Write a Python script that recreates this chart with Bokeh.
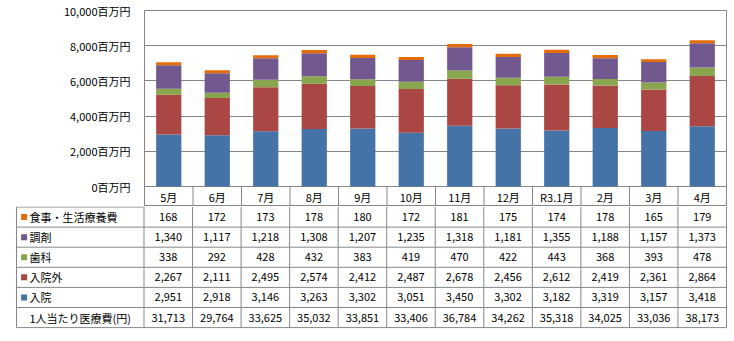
from bokeh.plotting import figure
from bokeh.models import ColumnDataSource, Range1d, FixedTicker
from bokeh.core.properties import value
from bokeh.embed import file_html
from bokeh.resources import INLINE

months = ["5月", "6月", "7月", "8月", "9月", "10月", "11月", "12月", "R3.1月", "2月", "3月", "4月"]
nyuin = [2951, 2918, 3146, 3263, 3302, 3051, 3450, 3302, 3182, 3319, 3157, 3418]
nyuingai = [2267, 2111, 2495, 2574, 2412, 2487, 2678, 2456, 2612, 2419, 2361, 2864]
shika = [338, 292, 428, 432, 383, 419, 470, 422, 443, 368, 393, 478]
chozai = [1340, 1117, 1218, 1308, 1207, 1235, 1318, 1181, 1355, 1188, 1157, 1373]
shokuji = [168, 172, 173, 178, 180, 172, 181, 175, 174, 178, 165, 179]
per_person = [31713, 29764, 33625, 35032, 33851, 33406, 36784, 34262, 35318, 34025, 33036, 38173]

series_names = ["入院", "入院外", "歯科", "調剤", "食事・生活療養費"]
series_vals = [nyuin, nyuingai, shika, chozai, shokuji]
colors = ["#4572A7", "#AA4643", "#89A54E", "#71588F", "#E46C0A"]
y_ticks = [0, 2000, 4000, 6000, 8000, 10000]
y_max = 10000

FONT = "Noto Sans CJK JP"
GRAY = "#878787"
W = 734
n = len(months)
centers = [i + 0.5 for i in range(n)]
bounds = list(range(n + 1))

# ---------------- bar chart + month header row ----------------
PLOT_PX = 176.0   # height of value area (0..10000)
HEAD_PX = 20.0    # height of month header row below the value area
ext = y_max * HEAD_PX / PLOT_PX

data = {"x": centers, "month": months}
for nm, v in zip(series_names, series_vals):
    data[nm] = v
src = ColumnDataSource(data)

TOP_H = 206
p = figure(x_range=Range1d(0, n), y_range=Range1d(-ext, y_max),
           width=W, height=TOP_H, output_backend="svg", toolbar_location=None,
           min_border_left=144, min_border_right=8, min_border_top=10, min_border_bottom=0)
p.vbar_stack(series_names, x="x", width=0.52, color=colors, source=src, line_color=None)

# header row: separators and month labels
p.segment(x0=bounds, x1=bounds, y0=[0] * len(bounds), y1=[-ext] * len(bounds),
          line_color=GRAY, line_width=1)
p.text(x=centers, y=[-ext / 2] * n, text=months, text_font=value(FONT),
       text_font_size="11px", text_align="center", text_baseline="middle",
       text_color="#000000")

p.xaxis.visible = False
p.yaxis.ticker = FixedTicker(ticks=y_ticks)
p.yaxis.major_label_overrides = {t: f"{t:,}百万円" for t in y_ticks}
p.yaxis.axis_line_color = None
p.yaxis.major_tick_line_color = None
p.yaxis.minor_tick_line_color = None
p.yaxis.major_label_text_font = FONT
p.yaxis.major_label_text_font_size = "11px"
p.yaxis.major_label_text_color = "#000000"
p.yaxis.major_label_standoff = 8
p.xgrid.grid_line_color = None
p.ygrid.ticker = FixedTicker(ticks=y_ticks)
p.ygrid.grid_line_color = GRAY
p.outline_line_color = GRAY
p.outline_line_width = 1
p.background_fill_color = "white"
p.border_fill_color = "white"

# ---------------- data table ----------------
u = 582.5 / 12.0            # px per month column
L = (143.5 - 16.0) / u      # label column width in column units
pad = 2.0 / u
rh = 20.1                   # px per table row
nrows = 6
TAB_H = 341 - TOP_H
frame_h = 123
t = figure(x_range=Range1d(-L - pad, n + pad),
           y_range=Range1d((frame_h - 0.5) / rh, -0.5 / rh),
           width=W, height=TAB_H, output_backend="svg", toolbar_location=None,
           min_border_left=14, min_border_right=6, min_border_top=0,
           min_border_bottom=TAB_H - frame_h)
t.axis.visible = False
t.grid.visible = False
t.outline_line_color = None
t.background_fill_color = "white"
t.border_fill_color = "white"

hy = list(range(1, nrows + 1))
t.segment(x0=[-L] * len(hy), x1=[n] * len(hy), y0=hy, y1=hy, line_color=GRAY, line_width=1)
t.segment(x0=[-L], x1=[0], y0=[0], y1=[0], line_color=GRAY, line_width=1)
vx = [-L] + bounds
t.segment(x0=vx, x1=vx, y0=[0] * len(vx), y1=[nrows] * len(vx), line_color=GRAY, line_width=1)

# rows (top to bottom): 食事, 調剤, 歯科, 入院外, 入院, 1人当たり
row_order = [4, 3, 2, 1, 0]
xs, ys, txt = [], [], []
for r, si in enumerate(row_order):
    for i in range(n):
        xs.append(centers[i])
        ys.append(r + 0.5)
        txt.append(f"{series_vals[si][i]:,}")
for i in range(n):
    xs.append(centers[i])
    ys.append(5.5)
    txt.append(f"{per_person[i]:,}")
t.text(x=xs, y=ys, text=txt, text_font=value(FONT), text_font_size="11px",
       text_align="center", text_baseline="middle", text_color="#000000")

lab_names = [series_names[si] for si in row_order] + ["1人当たり医療費(円)"]
lab_y = [r + 0.5 for r in range(6)]
t.scatter(x=[-L + 7.6 / u] * 5, y=lab_y[:5], marker="square", size=6,
          color=[colors[si] for si in row_order], line_color=None)
t.text(x=[-L + 13.0 / u] * 6, y=lab_y, text=lab_names, text_font=value(FONT),
       text_font_size="11px", text_align="left", text_baseline="middle", text_color="#000000")

open("out.html", "w").write(file_html([p, t], INLINE))
